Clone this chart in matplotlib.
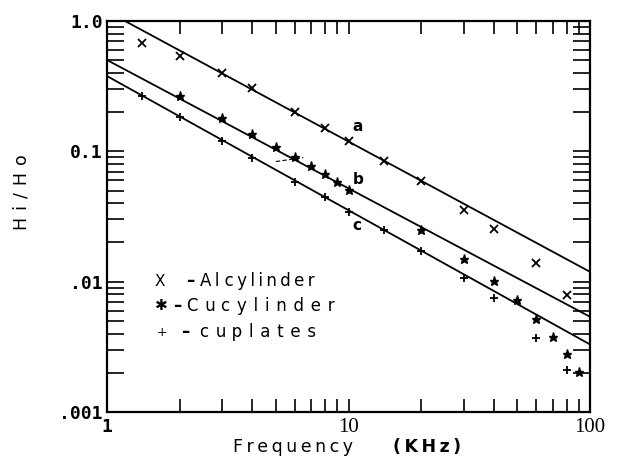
import matplotlib
matplotlib.use("Agg")
import matplotlib.pyplot as plt
from matplotlib.ticker import LogLocator, NullFormatter

# ---- data ----
freq_al = [1.4, 2, 3, 4, 6, 8, 10, 14, 20, 30, 40, 60, 80]
hi_al = [0.674, 0.539, 0.397, 0.304, 0.201, 0.150, 0.119, 0.0847, 0.0595,
         0.0355, 0.0252, 0.0138, 0.0079]

freq_cu = [2, 3, 4, 5, 6, 7, 8, 9, 10, 20, 30, 40, 50, 60, 70, 80, 90]
hi_cu = [0.266, 0.179, 0.135, 0.108, 0.091, 0.0776, 0.067, 0.0585, 0.0505,
         0.0249, 0.0149, 0.0102, 0.00723, 0.00514, 0.00378, 0.00277, 0.00204]

freq_pl = [1.4, 2, 3, 4, 6, 8, 10, 14, 20, 30, 40, 60, 80]
hi_pl = [0.267, 0.184, 0.12, 0.0893, 0.0585, 0.0443, 0.0344, 0.0249, 0.0172,
         0.0106, 0.00753, 0.00367, 0.0021]

line_a_f = [1.187, 100]
line_a_y = [1.0, 0.0119]
line_b_f = [1, 100]
line_b_y = [0.502, 0.00538]
line_c_f = [1, 100]
line_c_y = [0.378, 0.0033]

curve_labels = ["a", "b", "c"]
curve_label_pos = [(10.4, 0.154), (10.4, 0.0613), (10.4, 0.0272)]

ytick_vals = [1.0, 0.1, 0.01, 0.001]
ytick_text = ["1.0", "0.1", ".01", ".001"]
xtick_vals = [1, 10, 100]
xtick_text = ["1", "10", "100"]

legend_symbols = ["X", "\u2731", "+"]
legend_names = ["Al cylinder", "Cu cylinder", "cu plates"]

TS = "\u2009"  # thin space used as letter spacing


def spaced(word, n=1):
    return " ".join((TS * n).join(w) for w in word.split(" "))


# ---- figure ----
fig = plt.figure(figsize=(6.21, 4.61), dpi=100)
renderer = fig.canvas.get_renderer()


def fitted_text(x_px, y_px, word, target_px, vertical=False, **kw):
    """Place text, choosing the letter spacing that best matches target length (px)."""
    best = None
    for n in range(0, 7):
        t = fig.text(0, 0, spaced(word, n), rotation=90 if vertical else 0, **kw)
        bb = t.get_window_extent(renderer)
        size = bb.height if vertical else bb.width
        t.remove()
        if best is None or abs(size - target_px) < abs(best[1] - target_px):
            best = (n, size)
    return fig.text(x_px / 621, 1 - y_px / 461, spaced(word, best[0]),
                    rotation=90 if vertical else 0, **kw)


ax = fig.add_axes([107 / 621, 1 - 412 / 461, (590 - 107) / 621, (412 - 21) / 461])
ax.set_xscale("log")
ax.set_yscale("log")
ax.set_xlim(1, 100)
ax.set_ylim(0.001, 1.0)

for fl, yl in [(line_a_f, line_a_y), (line_b_f, line_b_y), (line_c_f, line_c_y)]:
    ax.plot(fl, yl, color="black", lw=1.3)

ax.plot(freq_al, hi_al, linestyle="none", marker="x", ms=6, mew=1.3, color="black")
ax.plot(freq_cu, hi_cu, linestyle="none", marker="*", ms=6.5, mew=1.0, color="black")
ax.plot(freq_pl, hi_pl, linestyle="none", marker="+", ms=6, mew=1.3, color="black")

# small stray dashed annotation mark
ax.plot([5.0, 6.5], [0.0835, 0.0895], color="black", lw=0.8, ls=(0, (4, 2)))

for lab, (fx, fy) in zip(curve_labels, curve_label_pos):
    ax.text(fx, fy, lab, fontsize=11, fontweight="bold", ha="left", va="center",
            family="DejaVu Sans")

for s in ax.spines.values():
    s.set_linewidth(1.6)

ax.xaxis.set_major_locator(LogLocator(base=10, numticks=10))
ax.xaxis.set_minor_locator(LogLocator(base=10, subs=range(2, 10), numticks=20))
ax.yaxis.set_major_locator(LogLocator(base=10, numticks=10))
ax.yaxis.set_minor_locator(LogLocator(base=10, subs=range(2, 10), numticks=20))
ax.xaxis.set_minor_formatter(NullFormatter())
ax.yaxis.set_minor_formatter(NullFormatter())

ax.tick_params(axis="x", which="both", direction="in", top=True, bottom=True,
               length=9.5, width=1.2, pad=4)
ax.tick_params(axis="y", which="both", direction="in", left=True, right=True,
               length=12.5, width=1.2, pad=3)

ax.set_yticks(ytick_vals)
ax.set_yticklabels(ytick_text, family="DejaVu Sans Mono", fontweight="bold", fontsize=13)
ax.set_xticks(xtick_vals)
ax.set_xticklabels(xtick_text)
xl = ax.get_xticklabels()
xl[0].set_family("DejaVu Sans Mono")
xl[0].set_fontweight("bold")
xl[0].set_fontsize(13)
for t in xl[1:]:
    t.set_family("Liberation Serif")
    t.set_fontsize(15)

# legend drawn as text (symbol, dash, name)
leg_y_px = [281, 306, 332]
sym_x_px = [155, 155, 157]
dash_x_px = [186, 173, 181]
name_x_px = [200, 187, 200]
name_w_px = [125, 138, 112]
for sym, name, yy, sx, dx, nx, nw in zip(legend_symbols, legend_names, leg_y_px,
                                         sym_x_px, dash_x_px, name_x_px, name_w_px):
    fig.text(sx / 621, 1 - yy / 461, sym, fontsize=11 if sym != "+" else 9,
             ha="left", va="center", family=["DejaVu Sans"])
    fig.text(dx / 621, 1 - yy / 461, "\u2013", fontsize=12, fontweight="bold",
             ha="left", va="center", family=["DejaVu Sans"])
    fitted_text(nx, yy, name, nw, fontsize=12, ha="left", va="center",
                family=["DejaVu Sans"])

fitted_text(22, 192, "Hi/Ho", 70, vertical=True, fontsize=12.5,
            ha="center", va="center", family="DejaVu Sans")
fitted_text(233, 447, "Frequency", 122, fontsize=12.5, ha="left", va="center",
            family="DejaVu Sans")
fitted_text(393, 447, "(KHz)", 65, fontsize=12.5, fontweight="bold", ha="left",
            va="center", family="DejaVu Sans")

fig.savefig("out.png", dpi=100)
